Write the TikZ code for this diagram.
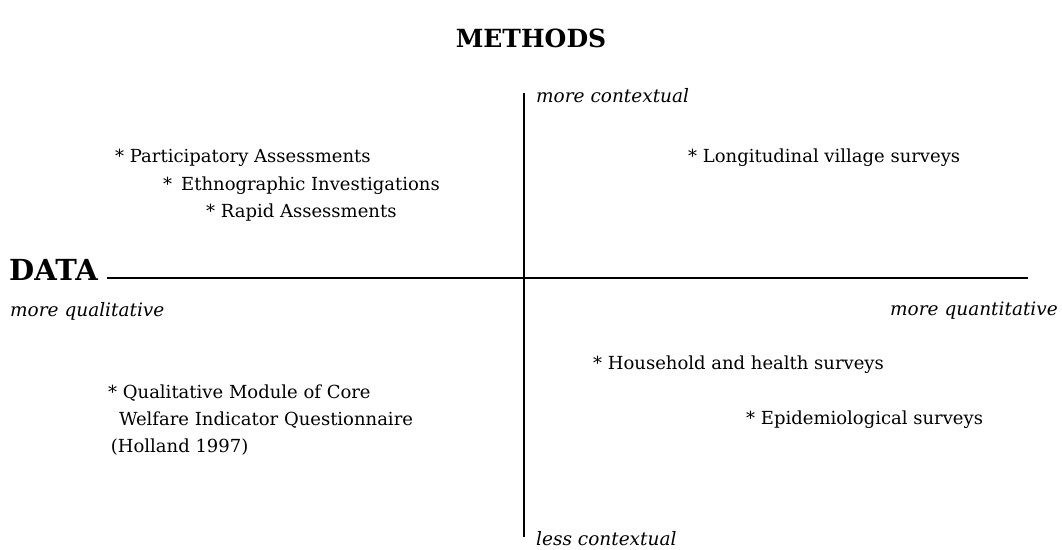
\documentclass[tikz,border=0pt]{standalone}
\usepackage{fontspec}
\setmainfont{DejaVu Serif}
\begin{document}
\begin{tikzpicture}[x=1pt,y=-1pt,
  item/.style={anchor=west,inner sep=0pt,font=\fontsize{18}{27}\selectfont,align=left},
  lab/.style={inner sep=0pt,font=\fontsize{18.5}{20}\selectfont\itshape},
  axis/.style={line width=1.2pt}]
\useasboundingbox (0,0) rectangle (1062,549);
\node[inner sep=0pt,font=\fontsize{25}{28}\selectfont\bfseries] (methods) at (531,38) {METHODS};
\coordinate (vtop) at (524,93);
\coordinate (vbot) at (524,537);
\node[inner sep=0pt,anchor=west,font=\fontsize{29}{30}\selectfont\bfseries] (data) at (9,270) {DATA};
\coordinate (hend) at (1028,278);
\draw[axis] (vtop) -- (vbot);
\draw[axis] (data.east |- hend) ++(9,0) coordinate (hstart) -- (hend);
\node[lab,anchor=west] (mc) at (536,96) {more contextual};
\node[lab,anchor=west] (lc) at (536,539) {less contextual};
\node[lab,anchor=west] (mql) at (10,311) {more qualitative};
\node[lab,anchor=east] (mqn) at (1058,311) {more quantitative};
\node[item] (pa) at (115,158) {* Participatory Assessments};
\node[item] (ei) at (163,186) {*\hspace{0.5em}Ethnographic Investigations};
\node[item] (ra) at (206,213) {* Rapid Assessments};
\node[item] (lv) at (688,158) {* Longitudinal village surveys};
\node[item] (hh) at (593,365) {* Household and health surveys};
\node[item] (ep) at (746,420) {* Epidemiological surveys};
\node[item] (qm) at (108,420) {* Qualitative Module of Core\\\hspace*{0.6em}Welfare Indicator Questionnaire\\\hspace*{0.15em}(Holland 1997)};
\end{tikzpicture}
\end{document}
